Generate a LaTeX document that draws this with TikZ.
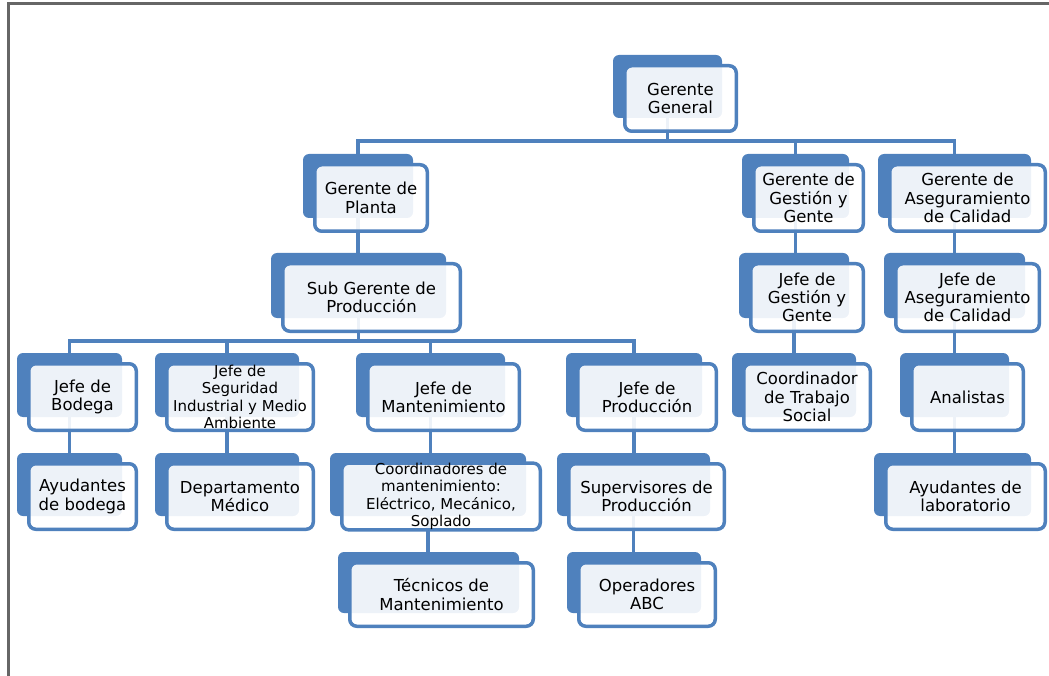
\documentclass[tikz,border=0pt]{standalone}
\usepackage{fontspec}
\setmainfont{DejaVu Sans}
\pgfdeclarelayer{back}
\pgfdeclarelayer{links}
\pgfsetlayers{back,links,main}
\definecolor{orgblue}{HTML}{4F81BD}
\definecolor{framegray}{HTML}{666666}

% front box with its darker shadow box behind it
\newcommand{\orgbox}[7][]{%
  \node[front box,#1,minimum width=#5-3.5,minimum height=#6-3.5] (#2) at (#3,#4) {#7};
  \begin{pgfonlayer}{back}
  \node[back box,minimum width=#5-6,minimum height=#6-6] (b#2) at (#3-13,#4-12) {};
  \end{pgfonlayer}}

\begin{document}
\begin{tikzpicture}[x=1pt,y=-1pt,
	front box/.style = {rectangle,draw=orgblue,line width=3.5,rounded corners=7,fill=white,fill opacity=0.9,
		text opacity=1,inner sep=0pt,align=center,font=\fontsize{16.5}{18.3}\selectfont},
	back box/.style = {rectangle,fill=orgblue,rounded corners=6,inner sep=0pt},
	small text/.style = {font=\fontsize{15}{17.4}\selectfont},
	link/.style = {draw=orgblue,line width=3.5}]

	\useasboundingbox (0,0) rectangle (1049,676);
	\draw[framegray,line width=3] (8.5,690) -- (8.5,3.3) -- (1060,3.3);

	\orgbox{1}{680.5}{98.5}{115}{69}{Gerente\\General}
	\orgbox{2}{371}{198}{116}{70}{Gerente de\\Planta}
	\orgbox{3}{808.5}{198}{113}{70}{Gerente de\\Gestión y\\Gente}
	\orgbox{4}{967.5}{198}{159}{70}{Gerente de\\Aseguramiento\\de Calidad}
	\orgbox{5}{371.5}{297.5}{181}{71}{Sub Gerente de\\Producción}
	\orgbox{6}{807}{297.5}{116}{71}{Jefe de\\Gestión y\\Gente}
	\orgbox{7}{967.5}{297.5}{147}{71}{Jefe de\\Aseguramiento\\de Calidad}
	\orgbox{8}{82.5}{397}{111}{70}{Jefe de\\Bodega}
	\orgbox[small text]{9}{240}{397}{150}{70}{Jefe de\\Seguridad\\Industrial y Medio\\Ambiente}
	\orgbox{10}{443.5}{397}{155}{70}{Jefe de\\Mantenimiento}
	\orgbox{11}{647}{397}{142}{70}{Jefe de\\Producción}
	\orgbox{12}{807}{397}{130}{70}{Coordinador\\de Trabajo\\Social}
	\orgbox{13}{967.5}{397}{115}{70}{Analistas}
	\orgbox{14}{82.5}{496.5}{111}{69}{Ayudantes\\de bodega}
	\orgbox{15}{240}{496.5}{150}{69}{Departamento\\Médico}
	\orgbox[small text]{16}{441}{496.5}{202}{69}{Coordinadores de\\mantenimiento:\\Eléctrico, Mecánico,\\Soplado}
	\orgbox{17}{646.5}{496.5}{159}{69}{Supervisores de\\Producción}
	\orgbox{18}{965.5}{496.5}{163}{69}{Ayudantes de\\laboratorio}
	\orgbox{19}{441.5}{594.5}{187}{67}{Técnicos de\\Mantenimiento}
	\orgbox{20}{647}{594.5}{140}{67}{Operadores\\ABC}

	\begin{pgfonlayer}{links}
	\coordinate (t1) at (0,141);
	\coordinate (t2) at (0,341);
	\draw[link] (b1.south) -- (b1.south |- t1);
	\draw[link] (b2.north) |- (b4.north |- t1) -- (b4.north);
	\draw[link] (b3.north) -- (b3.north |- t1);
	\draw[link] (b2.south) -- (b2.south |- b5.north);
	\draw[link] (b3.south) -- (b3.south |- b6.north);
	\draw[link] (b4.south) -- (b4.south |- b7.north);
	\draw[link] (b5.south) -- (b5.south |- t2);
	\draw[link] (b8.north) |- (b11.north |- t2) -- (b11.north);
	\draw[link] (b9.north) -- (b9.north |- t2);
	\draw[link] (b10.north) -- (b10.north |- t2);
	\draw[link] (b6.south) -- (b6.south |- b12.north);
	\draw[link] (b7.south) -- (b7.south |- b13.north);
	\draw[link] (b8.south) -- (b8.south |- b14.north);
	\draw[link] (b9.south) -- (b9.south |- b15.north);
	\draw[link] (b10.south) -- (b10.south |- b16.north);
	\draw[link] (b11.south) -- (b11.south |- b17.north);
	\draw[link] (b13.south) -- (b13.south |- b18.north);
	\draw[link] (b16.south) -- (b16.south |- b19.north);
	\draw[link] (b17.south) -- (b17.south |- b20.north);
	\end{pgfonlayer}
\end{tikzpicture}
\end{document}
